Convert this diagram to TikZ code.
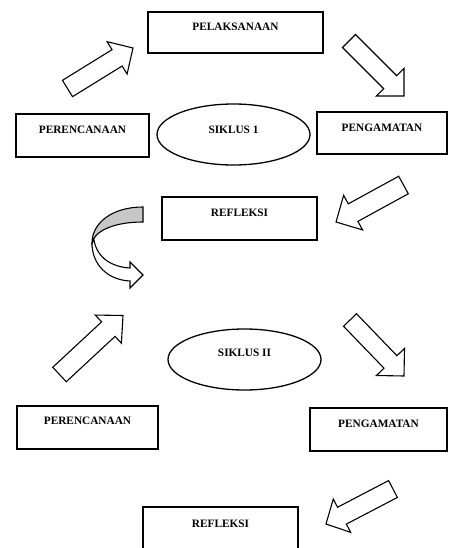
\documentclass[tikz,border=0pt]{standalone}
\usepackage{fontspec}
\setmainfont{Liberation Serif}
\usetikzlibrary{shapes.geometric,calc}
\newcommand\blkarrow[5]{%
  \coordinate (bA) at ($(#2)!#5!(#1)$);
  \draw[barrow] ($(#1)!#3!90:(#2)$) -- ($(bA)!#3!90:(#2)$) -- ($(bA)!#4!90:(#2)$)
     -- (#2) -- ($(bA)!#4!-90:(#2)$) -- ($(bA)!#3!-90:(#2)$) -- ($(#1)!#3!-90:(#2)$) -- cycle;}
\tikzset{
  every node/.style={font=\fontsize{11.3}{13}\selectfont\bfseries},
  box/.style={draw, line width=1.3pt, rectangle, inner sep=0pt, text height=0pt, text depth=#1},
  box/.default=3.5pt,
  oval/.style={draw, ellipse, line width=1.3pt, inner sep=0pt, minimum width=153pt, minimum height=61pt, text height=0pt, text depth=#1},
  barrow/.style={draw, line width=1.1pt, fill=white, line join=miter},
  curvegray/.style={draw, line width=1.1pt, fill=black!22},
}
\begin{document}
\begin{tikzpicture}[x=1pt,y=-1pt]
\useasboundingbox (0,0) rectangle (448,548);
% cycle I
\node[box, minimum width=175pt, minimum height=41pt] (pel1) at (235.5,32.5) {PELAKSANAAN};
\node[box, minimum width=133pt, minimum height=43pt] (per1) at (82.5,135.5) {PERENCANAAN};
\node[box=2.5pt, minimum width=130pt, minimum height=42pt] (pen1) at (382,133) {PENGAMATAN};
\node[box, minimum width=155pt, minimum height=43pt] (ref1) at (239.5,218.5) {REFLEKSI};
\node[oval=2.5pt] (sik1) at (233.5,134.5) {SIKLUS 1};
% cycle II
\node[box=5.5pt, minimum width=141pt, minimum height=43pt] (per2) at (87.5,427.5) {PERENCANAAN};
\node[box, minimum width=137pt, minimum height=43pt] (pen2) at (378.5,429.5) {PENGAMATAN};
\node[box=1.5pt, minimum width=155pt, minimum height=43pt] (ref2) at (220.5,528.5) {REFLEKSI};
\node[oval=5.5pt] (sik2) at (244.5,359.5) {SIKLUS II};
% block arrows
\coordinate (a1t) at (67.5,88.5);  \coordinate (a1h) at (133,48);
\coordinate (a2t) at (349,41);     \coordinate (a2h) at (404,96);
\coordinate (a3t) at (403.5,185);  \coordinate (a3h) at (336,222);
\coordinate (a4t) at (59.5,374.5); \coordinate (a4h) at (123,315.5);
\coordinate (a5t) at (350,320);    \coordinate (a5h) at (404,376);
\coordinate (a6t) at (393,489);    \coordinate (a6h) at (326,524);
\blkarrow{a1t}{a1h}{9.6pt}{19pt}{18.7pt}
\blkarrow{a2t}{a2h}{9.2pt}{19.5pt}{19.5pt}
\blkarrow{a3t}{a3h}{10pt}{19.7pt}{19.5pt}
\blkarrow{a4t}{a4h}{9.9pt}{19.2pt}{20pt}
\blkarrow{a5t}{a5h}{9pt}{19.5pt}{19.5pt}
\blkarrow{a6t}{a6h}{9.5pt}{18.8pt}{18pt}
% curved arrow
\draw[barrow] (92,243) .. controls (92,265) and (108,280) .. (130,281) -- (130,288) -- (143,275)
   -- (130,262) -- (130,268) .. controls (112,267) and (97,258) .. (94,240) -- cycle;
\draw[curvegray] (143,207) .. controls (112,207) and (92,223) .. (92,243)
   .. controls (94,232) and (112,222) .. (143,222) -- cycle;
\end{tikzpicture}
\end{document}
